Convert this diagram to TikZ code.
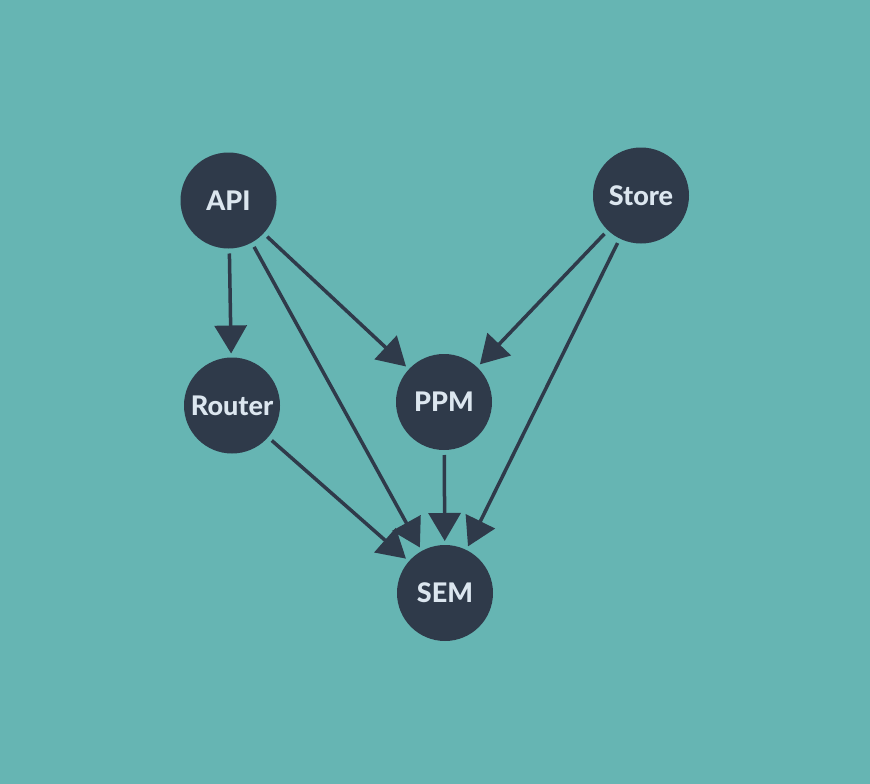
\documentclass[tikz,border=0pt]{standalone}
\usepackage{fontspec}
\setmainfont{Lato}
\newfontfamily\heavyfont{Lato Heavy}
\usetikzlibrary{arrows.meta}
\definecolor{bgteal}{HTML}{66B5B3}
\definecolor{nodedark}{HTML}{2F3A4A}
\definecolor{nodetext}{HTML}{DCE6EF}
\tikzset{
  circnode/.style={circle, fill=nodedark, minimum size=96pt, inner sep=0pt, outer sep=0pt,
    text=nodetext, font=\fontsize{27}{30}\selectfont\heavyfont},
  edge/.style={draw=nodedark, line width=3.5pt, shorten <=5pt, shorten >=4pt,
    -{Triangle[length=28pt,width=32pt]}}
}
\begin{document}
\begin{tikzpicture}[x=1pt,y=-1pt]
\fill[bgteal] (0,0) rectangle (870,784);
\useasboundingbox (0,0) rectangle (870,784);
\node[circnode] (api) at (228.5,200.5) {API};
\node[circnode] (store) at (641,195.5) {Store};
\node[circnode] (router) at (232,405.5) {Router};
\node[circnode] (ppm) at (444,402) {PPM};
\node[circnode] (sem) at (445,593) {SEM};
\draw[edge] (api) -- (router);
\draw[edge] (api) -- (sem);
\draw[edge] (api) -- (ppm);
\draw[edge] (store) -- (ppm);
\draw[edge] (store) -- (sem);
\draw[edge] (router) -- (sem);
\draw[edge] (ppm) -- (sem);
\end{tikzpicture}
\end{document}
